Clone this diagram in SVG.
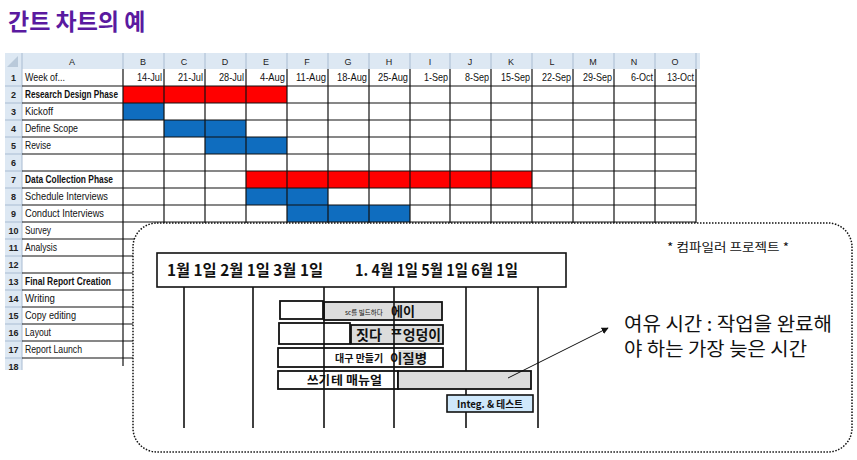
<svg xmlns="http://www.w3.org/2000/svg" width="857" height="460" viewBox="0 0 857 460">
<style>
.t{font-family:"Liberation Sans Narrow","Liberation Sans",Arial,sans-serif;font-size:11px;fill:#111}
.b{font-weight:bold}
.hd{font-family:"Liberation Sans",Arial,sans-serif;font-size:9px;fill:#222;text-anchor:middle}
.dt{font-family:"Liberation Sans Narrow","Liberation Sans",Arial,sans-serif;font-size:10.5px;fill:#111;text-anchor:end}
.rn{font-family:"Liberation Sans",Arial,sans-serif;font-size:9px;fill:#222;text-anchor:middle;font-weight:bold}
.ko{font-family:"Noto Sans CJK KR","Noto Sans",sans-serif;fill:#111}
.kb{font-family:"Noto Sans CJK KR","Noto Sans",sans-serif;font-weight:bold;fill:#111}
.box{stroke:#111;stroke-width:1.8}
.vl{stroke:#111;stroke-width:1.6}
.g{stroke:#111;stroke-width:1.2}
.lg{stroke:#a9bcd2;stroke-width:1}
</style>
<defs>
<marker id="ah" viewBox="0 0 10 10" refX="9" refY="5" markerWidth="7" markerHeight="7" orient="auto" markerUnits="userSpaceOnUse">
<path d="M0,0 L10,5 L0,10 z" fill="#111"/>
</marker>
</defs>
<rect width="857" height="460" fill="#fff"/>
<text id="title" x="8" y="30" font-family="'Noto Sans CJK KR',sans-serif" font-weight="bold" font-size="23" fill="#5a1aa0">간트 차트의 예</text>

<g id="spreadsheet">
<rect x="5" y="53" width="695" height="16" fill="#dde8f3"/>
<rect x="5" y="69" width="17" height="301" fill="#dde8f3"/>
<path d="M7,67 L18,56 L18,67 z" fill="#b9c9da"/>
<g class="lg">
<line x1="22" y1="53" x2="22" y2="370"/>
<line x1="123" y1="53" x2="123" y2="69"/><line x1="164" y1="53" x2="164" y2="69"/><line x1="205" y1="53" x2="205" y2="69"/><line x1="246" y1="53" x2="246" y2="69"/><line x1="287" y1="53" x2="287" y2="69"/><line x1="328" y1="53" x2="328" y2="69"/><line x1="369" y1="53" x2="369" y2="69"/><line x1="410" y1="53" x2="410" y2="69"/><line x1="450" y1="53" x2="450" y2="69"/><line x1="491" y1="53" x2="491" y2="69"/><line x1="532" y1="53" x2="532" y2="69"/><line x1="573" y1="53" x2="573" y2="69"/><line x1="614" y1="53" x2="614" y2="69"/><line x1="655" y1="53" x2="655" y2="69"/><line x1="696" y1="53" x2="696" y2="69"/>
<line x1="5" y1="86" x2="22" y2="86"/><line x1="5" y1="103" x2="22" y2="103"/><line x1="5" y1="120" x2="22" y2="120"/><line x1="5" y1="137" x2="22" y2="137"/><line x1="5" y1="154" x2="22" y2="154"/><line x1="5" y1="171" x2="22" y2="171"/><line x1="5" y1="188" x2="22" y2="188"/><line x1="5" y1="205" x2="22" y2="205"/><line x1="5" y1="222" x2="22" y2="222"/><line x1="5" y1="239" x2="22" y2="239"/><line x1="5" y1="256" x2="22" y2="256"/><line x1="5" y1="273" x2="22" y2="273"/><line x1="5" y1="290" x2="22" y2="290"/><line x1="5" y1="307" x2="22" y2="307"/><line x1="5" y1="324" x2="22" y2="324"/><line x1="5" y1="341" x2="22" y2="341"/><line x1="5" y1="358" x2="22" y2="358"/>
</g>
<g>
<text class="hd" x="72" y="65">A</text><text class="hd" x="143" y="65">B</text><text class="hd" x="184" y="65">C</text><text class="hd" x="225" y="65">D</text><text class="hd" x="266" y="65">E</text><text class="hd" x="307" y="65">F</text><text class="hd" x="348" y="65">G</text><text class="hd" x="389" y="65">H</text><text class="hd" x="430" y="65">I</text><text class="hd" x="470" y="65">J</text><text class="hd" x="511" y="65">K</text><text class="hd" x="552" y="65">L</text><text class="hd" x="593" y="65">M</text><text class="hd" x="634" y="65">N</text><text class="hd" x="675" y="65">O</text>
</g>
<g>
<text class="rn" x="13.5" y="81">1</text><text class="rn" x="13.5" y="98">2</text><text class="rn" x="13.5" y="115">3</text><text class="rn" x="13.5" y="132">4</text><text class="rn" x="13.5" y="149">5</text><text class="rn" x="13.5" y="166">6</text><text class="rn" x="13.5" y="183">7</text><text class="rn" x="13.5" y="200">8</text><text class="rn" x="13.5" y="217">9</text><text class="rn" x="13.5" y="234">10</text><text class="rn" x="13.5" y="251">11</text><text class="rn" x="13.5" y="268">12</text><text class="rn" x="13.5" y="285">13</text><text class="rn" x="13.5" y="302">14</text><text class="rn" x="13.5" y="319">15</text><text class="rn" x="13.5" y="336">16</text><text class="rn" x="13.5" y="353">17</text><text class="rn" x="13.5" y="370">18</text>
</g>
<g id="bars">
<rect x="123" y="86" width="164" height="17" fill="#ff0000"/>
<rect x="123" y="103" width="41" height="17" fill="#0f6dbf"/>
<rect x="164" y="120" width="82" height="17" fill="#0f6dbf"/>
<rect x="205" y="137" width="82" height="17" fill="#0f6dbf"/>
<rect x="246" y="171" width="286" height="17" fill="#ff0000"/>
<rect x="246" y="188" width="82" height="17" fill="#0f6dbf"/>
<rect x="287" y="205" width="123" height="17" fill="#0f6dbf"/>
</g>
<g class="g">
<line x1="22" y1="86" x2="696" y2="86"/><line x1="22" y1="103" x2="696" y2="103"/><line x1="22" y1="120" x2="696" y2="120"/><line x1="22" y1="137" x2="696" y2="137"/><line x1="22" y1="154" x2="696" y2="154"/><line x1="22" y1="171" x2="696" y2="171"/><line x1="22" y1="188" x2="696" y2="188"/><line x1="22" y1="205" x2="696" y2="205"/><line x1="22" y1="222" x2="696" y2="222"/><line x1="22" y1="239" x2="696" y2="239"/><line x1="22" y1="256" x2="696" y2="256"/><line x1="22" y1="273" x2="696" y2="273"/><line x1="22" y1="290" x2="696" y2="290"/><line x1="22" y1="307" x2="696" y2="307"/><line x1="22" y1="324" x2="696" y2="324"/><line x1="22" y1="341" x2="696" y2="341"/><line x1="22" y1="358" x2="696" y2="358"/>
<line x1="123" y1="69" x2="123" y2="366"/><line x1="164" y1="69" x2="164" y2="370"/><line x1="205" y1="69" x2="205" y2="370"/><line x1="246" y1="69" x2="246" y2="370"/><line x1="287" y1="69" x2="287" y2="370"/><line x1="328" y1="69" x2="328" y2="370"/><line x1="369" y1="69" x2="369" y2="370"/><line x1="410" y1="69" x2="410" y2="370"/><line x1="450" y1="69" x2="450" y2="370"/><line x1="491" y1="69" x2="491" y2="370"/><line x1="532" y1="69" x2="532" y2="370"/><line x1="573" y1="69" x2="573" y2="370"/><line x1="614" y1="69" x2="614" y2="370"/><line x1="655" y1="69" x2="655" y2="370"/><line x1="696" y1="69" x2="696" y2="370"/>
</g>
<g>
<text class="t" x="25" y="81" textLength="40" lengthAdjust="spacingAndGlyphs">Week of...</text>
<text class="t b" x="25" y="98" textLength="93" lengthAdjust="spacingAndGlyphs">Research Design Phase</text>
<text class="t" x="25" y="115" textLength="28" lengthAdjust="spacingAndGlyphs">Kickoff</text>
<text class="t" x="25" y="132" textLength="53" lengthAdjust="spacingAndGlyphs">Define Scope</text>
<text class="t" x="25" y="149" textLength="26" lengthAdjust="spacingAndGlyphs">Revise</text>
<text class="t b" x="25" y="183" textLength="88" lengthAdjust="spacingAndGlyphs">Data Collection Phase</text>
<text class="t" x="25" y="200" textLength="83" lengthAdjust="spacingAndGlyphs">Schedule Interviews</text>
<text class="t" x="25" y="217" textLength="79" lengthAdjust="spacingAndGlyphs">Conduct Interviews</text>
<text class="t" x="25" y="234" textLength="26" lengthAdjust="spacingAndGlyphs">Survey</text>
<text class="t" x="25" y="251" textLength="32" lengthAdjust="spacingAndGlyphs">Analysis</text>
<text class="t b" x="25" y="285" textLength="86" lengthAdjust="spacingAndGlyphs">Final Report Creation</text>
<text class="t" x="25" y="302" textLength="30" lengthAdjust="spacingAndGlyphs">Writing</text>
<text class="t" x="25" y="319" textLength="51" lengthAdjust="spacingAndGlyphs">Copy editing</text>
<text class="t" x="25" y="336" textLength="26" lengthAdjust="spacingAndGlyphs">Layout</text>
<text class="t" x="25" y="353" textLength="57" lengthAdjust="spacingAndGlyphs">Report Launch</text>
</g>
<g>
<text class="dt" x="162" y="81" textLength="25" lengthAdjust="spacingAndGlyphs">14-Jul</text><text class="dt" x="203" y="81" textLength="25" lengthAdjust="spacingAndGlyphs">21-Jul</text><text class="dt" x="244" y="81" textLength="25" lengthAdjust="spacingAndGlyphs">28-Jul</text><text class="dt" x="285" y="81" textLength="25" lengthAdjust="spacingAndGlyphs">4-Aug</text><text class="dt" x="326" y="81" textLength="30" lengthAdjust="spacingAndGlyphs">11-Aug</text><text class="dt" x="367" y="81" textLength="30" lengthAdjust="spacingAndGlyphs">18-Aug</text><text class="dt" x="408" y="81" textLength="30" lengthAdjust="spacingAndGlyphs">25-Aug</text><text class="dt" x="448" y="81" textLength="24" lengthAdjust="spacingAndGlyphs">1-Sep</text><text class="dt" x="489" y="81" textLength="24" lengthAdjust="spacingAndGlyphs">8-Sep</text><text class="dt" x="530" y="81" textLength="29" lengthAdjust="spacingAndGlyphs">15-Sep</text><text class="dt" x="571" y="81" textLength="29" lengthAdjust="spacingAndGlyphs">22-Sep</text><text class="dt" x="612" y="81" textLength="29" lengthAdjust="spacingAndGlyphs">29-Sep</text><text class="dt" x="653" y="81" textLength="22" lengthAdjust="spacingAndGlyphs">6-Oct</text><text class="dt" x="694" y="81" textLength="27" lengthAdjust="spacingAndGlyphs">13-Oct</text>
</g>
</g>

<g id="callout">
<rect x="133" y="223" width="719" height="229" rx="24" ry="24" fill="#fff" stroke="#111" stroke-width="1.5" stroke-dasharray="1.5 1.5"/>
<text class="ko" x="667" y="252" font-size="12" fill="#333" textLength="122" lengthAdjust="spacingAndGlyphs">* 컴파일러 프로젝트 *</text>
</g>

<g id="timeline-header">
<rect x="157" y="253" width="409" height="34" fill="#fff" stroke="#111" stroke-width="1.6"/>
<text class="kb" x="167" y="276" font-size="15.5" textLength="156" lengthAdjust="spacingAndGlyphs">1월 1일 2월 1일 3월 1일</text>
<text class="kb" x="355" y="276" font-size="15.5" textLength="163" lengthAdjust="spacingAndGlyphs">1. 4월 1일 5월 1일 6월 1일</text>
</g>

<g id="task-build-sc">
<rect class="box" x="280" y="301" width="43" height="18" fill="#fff"/>
<rect class="box" x="324" y="302" width="118" height="18" fill="#dcdcdc"/>
<text class="ko" x="345" y="315" font-size="6.5">sc를 빌드하다</text>
<text class="kb" x="391" y="316" font-size="13">에이</text>
</g>
<g id="task-build-parser">
<rect class="box" x="279" y="323" width="71" height="21" fill="#fff"/>
<rect class="box" x="351" y="325" width="92" height="19" fill="#dcdcdc"/>
<text class="kb" x="356" y="340" font-size="14">짓다</text>
<text class="kb" x="390" y="340" font-size="14" textLength="51" lengthAdjust="spacingAndGlyphs">ᄑ엉덩이</text>
</g>
<g id="task-build-code">
<rect class="box" x="278" y="348" width="165" height="19" fill="#fff"/>
<rect x="398" y="350" width="26" height="15" fill="#dcdcdc"/>
<text class="kb" x="335" y="362" font-size="10">대구 만들기</text>
<text class="kb" x="390" y="363" font-size="13" textLength="37" lengthAdjust="spacingAndGlyphs">이질병</text>
</g>
<g id="task-write-manual">
<rect class="box" x="278" y="371" width="120" height="18" fill="#fff"/>
<text class="kb" x="307" y="385" font-size="12.5">쓰기</text>
<text class="kb" x="331" y="385" font-size="12" textLength="51" lengthAdjust="spacingAndGlyphs">테 매뉴얼</text>
</g>

<g id="connectors">
<line class="vl" x1="184" y1="287" x2="184" y2="428"/>
<line class="vl" x1="253" y1="287" x2="253" y2="428"/>
<line class="vl" x1="324" y1="287" x2="324" y2="428"/>
<line class="vl" x1="394" y1="287" x2="394" y2="428"/>
<line class="vl" x1="466" y1="287" x2="466" y2="428"/>
<line class="vl" x1="538" y1="287" x2="538" y2="428"/>
</g>

<g id="task-slack">
<rect class="box" x="398" y="371" width="133" height="18" fill="#dcdcdc"/>
</g>
<g id="task-integ">
<rect x="447" y="395" width="86" height="17" fill="#cfe8fb" stroke="#111" stroke-width="1.6"/>
<text class="kb" x="457" y="408" font-size="10" textLength="66" lengthAdjust="spacingAndGlyphs">Integ. &amp; 테스트</text>
</g>

<g id="arrow">
<line x1="508" y1="378" x2="608" y2="328" stroke="#111" stroke-width="1" marker-end="url(#ah)"/>
</g>
<g id="note">
<text class="ko" x="624" y="331" font-size="19" textLength="208" lengthAdjust="spacingAndGlyphs">여유 시간 : 작업을 완료해</text>
<text class="ko" x="624" y="356" font-size="19" textLength="183" lengthAdjust="spacingAndGlyphs">야 하는 가장 늦은 시간</text>
</g>
</svg>
